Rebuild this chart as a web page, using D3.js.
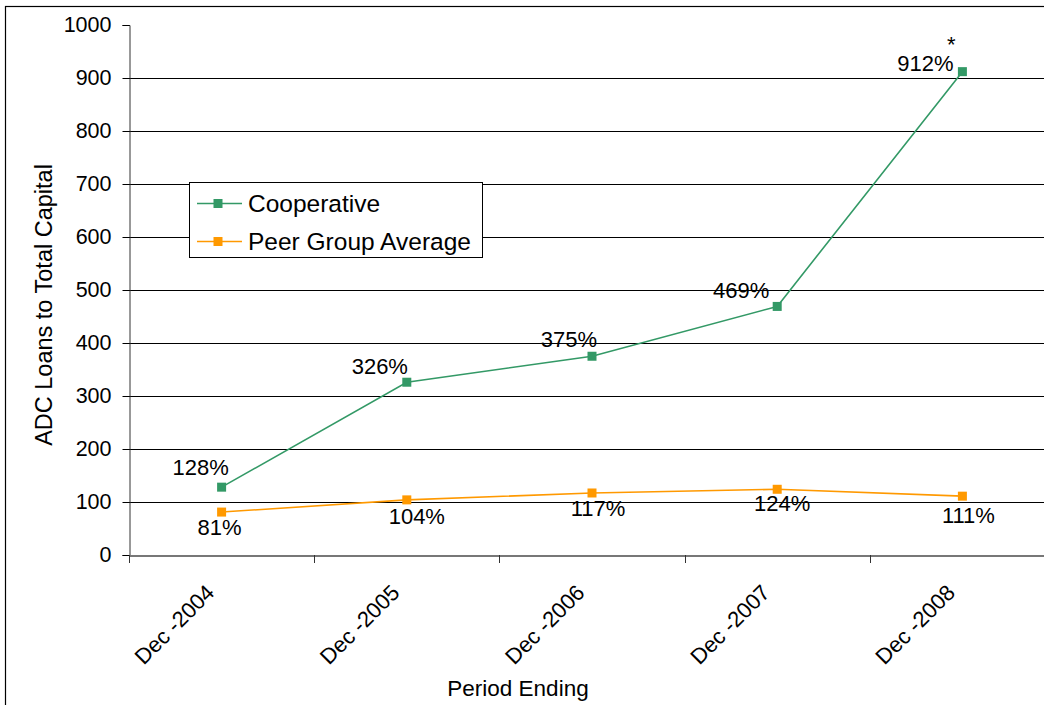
<!DOCTYPE html>
<html><head><meta charset="utf-8">
<script src="https://cdn.jsdelivr.net/npm/d3@7"></script>
<style>body{margin:0;background:#fff}svg{display:block;font-family:"Liberation Sans",Arial,sans-serif}</style>
</head><body><svg id="c" width="1044" height="705"></svg>
<script>
const categories = ["Dec -2004","Dec -2005","Dec -2006","Dec -2007","Dec -2008"];
const cooperative = [128, 326, 375, 469, 912];
const peerAverage = [81, 104, 117, 124, 111];
const yTicks = [0,100,200,300,400,500,600,700,800,900,1000];
const seriesNames = ["Cooperative","Peer Group Average"];

// label placement offsets (layout only)
const coopOff = [[-21,-12],[-27,-8],[-23,-9],[-36,-8],[-37,-1]];
const peerOff = [[-2,23],[10,24],[6,23],[5,22],[6,27]];

const svg = d3.select("#c");
const colors = ["#339966","#FF9900"];
const L=129, R=1055, T=25, B=555;
svg.append("rect").attr("x",5.5).attr("y",6.5).attr("width",1100).attr("height",800)
  .attr("fill","none").attr("stroke","#000").attr("stroke-width",1.2);

const x = d3.scaleBand().domain(categories).range([L,R]);
const y = d3.scaleLinear().domain([0,1000]).range([B,T]);

// gridlines
svg.append("g").selectAll("line").data(yTicks.filter(d=>d>0&&d<1000)).join("line")
  .attr("x1",L).attr("x2",R).attr("y1",d=>Math.round(y(d))+0.5).attr("y2",d=>Math.round(y(d))+0.5)
  .attr("stroke","#000").attr("stroke-width",1);

// y axis
const ya = svg.append("g").attr("transform",`translate(${L+0.5},0)`)
  .call(d3.axisLeft(y).tickValues(yTicks).tickSize(7).tickPadding(11).tickFormat(d3.format("d")));
ya.select(".domain").attr("stroke","#333");
ya.selectAll(".tick line").attr("stroke","#000");
ya.selectAll("text").attr("font-size",21.5).attr("fill","#000").attr("font-family","Liberation Sans, Arial, sans-serif");

// x axis
const xa = svg.append("g").attr("transform",`translate(0,${B+0.5})`)
  .call(d3.axisBottom(x).tickSize(0).tickFormat(""));
xa.select(".domain").attr("stroke","#777").attr("stroke-width",2);
const bnd = categories.map(c=>x(c)).concat([x(categories[4])+x.bandwidth()]);
svg.append("g").selectAll("line").data(bnd).join("line")
  .attr("x1",d=>Math.round(d)+0.5).attr("x2",d=>Math.round(d)+0.5).attr("y1",B).attr("y2",B+8)
  .attr("stroke","#333");
svg.append("g").selectAll("text").data(categories).join("text")
  .attr("transform",d=>`translate(${x(d)+x.bandwidth()/2-6},${B+39}) rotate(-45)`)
  .attr("text-anchor","end").attr("font-size",22).attr("fill","#000").text(d=>d);

// titles
svg.append("text").attr("x",518).attr("y",696).attr("text-anchor","middle").attr("font-size",22.5).text("Period Ending");
svg.append("text").attr("transform","translate(52,305) rotate(-90)").attr("text-anchor","middle").attr("font-size",23.5).text("ADC Loans to Total Capital");

// series
const cx = d=>x(d)+x.bandwidth()/2;
const series=[cooperative,peerAverage];
series.forEach((vals,si)=>{
  const pts = vals.map((v,i)=>[cx(categories[i]),y(v)]);
  svg.append("path").attr("d",d3.line()(pts)).attr("fill","none").attr("stroke",colors[si]).attr("stroke-width",1.6);
  svg.append("g").selectAll("rect").data(pts).join("rect")
    .attr("x",p=>p[0]-4.5).attr("y",p=>p[1]-4.5).attr("width",9).attr("height",9).attr("fill",colors[si]);
  const off = si===0?coopOff:peerOff;
  svg.append("g").selectAll("text").data(vals).join("text")
    .attr("x",(v,i)=>pts[i][0]+off[i][0]).attr("y",(v,i)=>pts[i][1]+off[i][1])
    .attr("text-anchor","middle").attr("font-size",22).attr("fill","#000").text(v=>v+"%");
});
// asterisk
svg.append("text").attr("x",cx(categories[4])-11).attr("y",y(cooperative[4])-20).attr("text-anchor","middle").attr("font-size",22).text("*");

// legend
const lg = svg.append("g");
lg.append("rect").attr("x",189.5).attr("y",182.5).attr("width",293).attr("height",75).attr("fill","#fff").attr("stroke","#000");
seriesNames.forEach((n,i)=>{
  const yy = 203.5+i*38;
  lg.append("line").attr("x1",197).attr("x2",242).attr("y1",yy).attr("y2",yy).attr("stroke",colors[i]).attr("stroke-width",1.6);
  lg.append("rect").attr("x",213.5).attr("y",yy-4.5).attr("width",9).attr("height",9).attr("fill",colors[i]);
  lg.append("text").attr("x",248).attr("y",yy+8.5).attr("font-size",24.5).text(n);
});
</script></body></html>
